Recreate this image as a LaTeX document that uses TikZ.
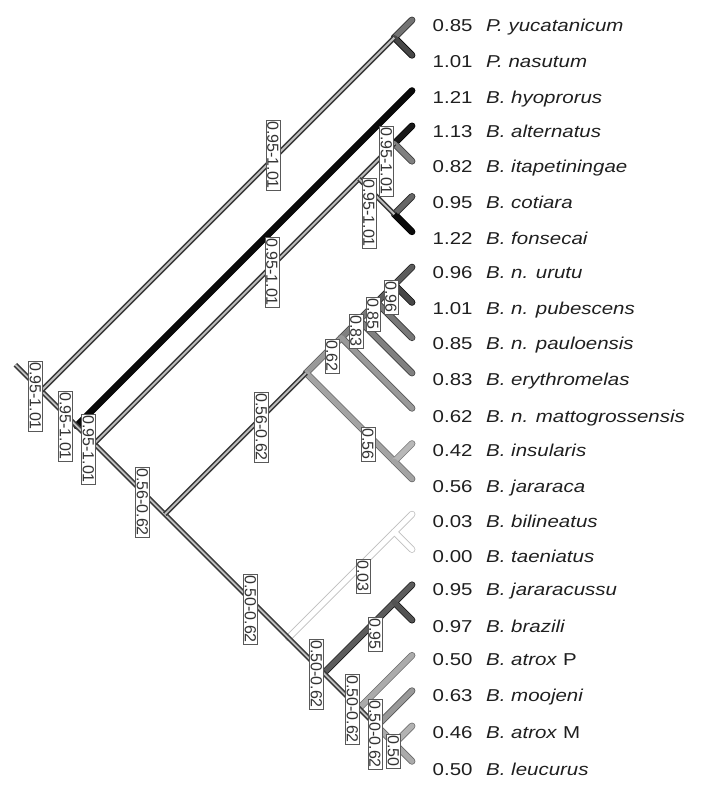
\documentclass[tikz,border=0pt]{standalone}
\usepackage{fontspec}
\setmainfont{Liberation Sans}
\newfontfamily\tipfont[FakeStretch=1.19]{Liberation Sans}
\begin{document}
\begin{tikzpicture}[x=1pt,y=-1pt,
  rng/.style={draw=black!78,line width=1.6pt,double=black!25,double distance=1.8pt},
  vlab/.style={draw=black!65,fill=white,line width=0.7pt,inner sep=1.3pt,rotate=-90,
    font=\fontsize{16}{18}\selectfont,text=black!80},
  tiplab/.style={anchor=base west,inner sep=0pt,text=black!88,
    font=\tipfont\fontsize{17.2}{20}\selectfont}]
\useasboundingbox (0,0) rectangle (703,785);

% internal nodes (slanted cladogram, 45 degree branches)
\coordinate (stub) at (15.35,364.65);
\coordinate (N1) at (41.35,390.65);
\coordinate (N2) at (76.65,425.95);
\coordinate (N3) at (94.3,443.6);
\coordinate (N4) at (164.9,514.2);
\coordinate (N5) at (288.45,637.75);
\coordinate (N6) at (323.75,673.05);
\coordinate (N7) at (359.05,708.35);
\coordinate (N8) at (376.7,726);
\coordinate (N9) at (394.35,743.65);
\coordinate (P) at (394.35,37.65);
\coordinate (G) at (359.05,178.85);
\coordinate (AI) at (394.35,143.55);
\coordinate (CF) at (394.35,214.15);
\coordinate (Q) at (306.1,373);
\coordinate (M) at (341.4,337.7);
\coordinate (E) at (359.05,320.05);
\coordinate (PA) at (376.7,302.4);
\coordinate (UP) at (394.35,284.75);
\coordinate (IJ) at (394.35,461.25);
\coordinate (BT) at (394.35,531.85);
\coordinate (JB) at (394.35,602.45);
% tips
\foreach \n [count=\i from 0] in {yuc,nas,hyo,alt,ita,cot,fon,uru,pub,pau,ery,mat,ins,jar,bil,tae,jsu,bra,aP,moo,aM,leu}
  \coordinate (\n) at (412,{20+35.3*\i});

% single-value branches
\def\brlist{P/yuc/55,P/nas/72,N2/hyo/96,AI/alt/90,AI/ita/50,CF/cot/60,CF/fon/96,
  Q/M/40,M/E/50,E/PA/53,PA/UP/64,UP/uru/64,UP/pub/72,PA/pau/53,E/ery/50,M/mat/40,
  Q/IJ/36,IJ/ins/28,IJ/jar/36,N5/BT/0,BT/bil/0,BT/tae/0,N6/JB/64,JB/jsu/64,JB/bra/68,
  N7/aP/33,N8/moo/40,N8/N9/33,N9/aM/30,N9/leu/33}
\foreach \a/\b/\p in \brlist {
  \pgfmathtruncatemacro\brout{min(100,\p+25)}
  \draw[line width=6.8pt,line cap=round,draw=black!\brout] (\a) -- (\b);
}
\foreach \a/\b/\p in \brlist {
  \draw[line width=5.2pt,line cap=round,draw=black!\p] (\a) -- (\b);
}

% branches with ranges (double lines)
\draw[rng] (stub) -- (N1) -- (N2) -- (N3) -- (N4) -- (N5) -- (N6) -- (N7) -- (N8);
\draw[rng] (N1) -- (P);
\draw[rng] (N3) -- (G);
\draw[rng] (G) -- (AI);
\draw[rng] (G) -- (CF);
\draw[rng] (N4) -- (Q);

% branch value labels
\node[vlab] (r1) at (35.5,396) {0.95-1.01};
\node[vlab] (r2) at (65.5,426) {0.95-1.01};
\node[vlab] (r3) at (88.5,449) {0.95-1.01};
\node[vlab] (r4) at (142.5,502) {0.56-0.62};
\node[vlab] (r5) at (273,155) {0.95-1.01};
\node[vlab] (r6) at (272,272) {0.95-1.01};
\node[vlab] (r7) at (386.5,161) {0.95-1.01};
\node[vlab] (r8) at (369,213) {0.95-1.01};
\node[vlab] (r9) at (261.5,427) {0.56-0.62};
\node[vlab] (r10) at (332,356) {0.62};
\node[vlab] (r11) at (356,331) {0.83};
\node[vlab] (r12) at (373,314) {0.85};
\node[vlab] (r13) at (391,297) {0.96};
\node[vlab] (r14) at (368,444) {0.56};
\node[vlab] (r15) at (363,576) {0.03};
\node[vlab] (r16) at (375,634) {0.95};
\node[vlab] (r17) at (250.5,609) {0.50-0.62};
\node[vlab] (r18) at (316.5,674) {0.50-0.62};
\node[vlab] (r19) at (352.5,709) {0.50-0.62};
\node[vlab] (r20) at (375,734) {0.50-0.62};
\node[vlab] (r21) at (393.5,751) {0.50};

% tip labels
\newcommand\tv[1]{\makebox[53.5pt][l]{#1}}
\node[tiplab] (l-yuc) at (432.5,31.7) {\tv{0.85}\textit{P. yucatanicum}};
\node[tiplab] (l-nas) at (432.5,67.8) {\tv{1.01}\textit{P. nasutum}};
\node[tiplab] (l-hyo) at (432.5,103) {\tv{1.21}\textit{B. hyoprorus}};
\node[tiplab] (l-alt) at (432.5,137.7) {\tv{1.13}\textit{B. alternatus}};
\node[tiplab] (l-ita) at (432.5,172.8) {\tv{0.82}\textit{B. itapetiningae}};
\node[tiplab] (l-cot) at (432.5,208.4) {\tv{0.95}\textit{B. cotiara}};
\node[tiplab] (l-fon) at (432.5,244.6) {\tv{1.22}\textit{B. fonsecai}};
\node[tiplab] (l-uru) at (432.5,278.2) {\tv{0.96}\textit{B. n. urutu}};
\node[tiplab] (l-pub) at (432.5,314.4) {\tv{1.01}\textit{B. n. pubescens}};
\node[tiplab] (l-pau) at (432.5,349.6) {\tv{0.85}\textit{B. n. pauloensis}};
\node[tiplab] (l-ery) at (432.5,385.7) {\tv{0.83}\textit{B. erythromelas}};
\node[tiplab] (l-mat) at (432.5,422.8) {\tv{0.62}\textit{B. n. mattogrossensis}};
\node[tiplab] (l-ins) at (432.5,456.5) {\tv{0.42}\textit{B. insularis}};
\node[tiplab] (l-jar) at (432.5,492.7) {\tv{0.56}\textit{B. jararaca}};
\node[tiplab] (l-bil) at (432.5,527.8) {\tv{0.03}\textit{B. bilineatus}};
\node[tiplab] (l-tae) at (432.5,562.9) {\tv{0.00}\textit{B. taeniatus}};
\node[tiplab] (l-jsu) at (432.5,595.1) {\tv{0.95}\textit{B. jararacussu}};
\node[tiplab] (l-bra) at (432.5,632.2) {\tv{0.97}\textit{B. brazili}};
\node[tiplab] (l-aP) at (432.5,665.9) {\tv{0.50}\textit{B. atrox} P};
\node[tiplab] (l-moo) at (432.5,701.5) {\tv{0.63}\textit{B. moojeni}};
\node[tiplab] (l-aM) at (432.5,738.7) {\tv{0.46}\textit{B. atrox} M};
\node[tiplab] (l-leu) at (432.5,775.8) {\tv{0.50}\textit{B. leucurus}};
\end{tikzpicture}
\end{document}
